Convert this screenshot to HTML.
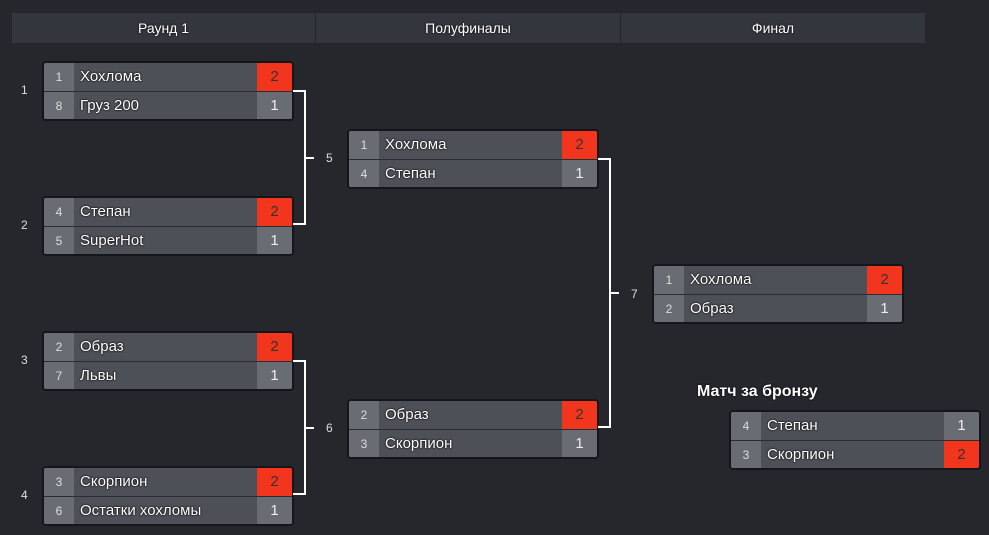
<!DOCTYPE html>
<html><head><meta charset="utf-8"><style>
body{margin:0;width:989px;height:535px;background:#26272d;font-family:"Liberation Sans",sans-serif;position:relative;overflow:hidden;color:#fff}
.h{position:absolute;top:13px;height:30px;background:#34363e;line-height:30px;text-align:center;font-size:14px;color:#fff;text-shadow:0 0 2px #000}
.m{position:absolute;width:248px;height:56px;border:2px solid #15161b;border-radius:4px;background:#4e5058;overflow:hidden}
.r{position:absolute;left:0;width:248px;height:28px;display:flex;font-size:15px;line-height:28px}
.r1{top:0;border-bottom:1px solid #2c2d33}
.r2{top:29px}
.s{width:30px;background:#6a6c73;color:#ddd;font-size:12px;text-align:center}
.n{flex:1;padding-left:6px;color:#fff;text-shadow:0 0 2px #000,0 0 1px #000}
.sc{width:35px;background:#6a6c73;color:#eee;text-align:center;font-size:15px}
.w{background:#f2361e;color:#333}
.l{position:absolute;background:#fff}
.t{position:absolute;font-size:12px;color:#ddd}
</style></head><body>
<div class="h" style="left:12px;width:303px">Раунд 1</div>
<div class="h" style="left:316px;width:304px">Полуфиналы</div>
<div class="h" style="left:621px;width:304px">Финал</div>

<div class="t" style="left:21px;top:83px">1</div>
<div class="t" style="left:21px;top:218px">2</div>
<div class="t" style="left:21px;top:353px">3</div>
<div class="t" style="left:21px;top:488px">4</div>

<div class="m" style="left:42px;top:61px"><div class="r r1"><div class="s">1</div><div class="n">Хохлома</div><div class="sc w">2</div></div><div class="r r2"><div class="s">8</div><div class="n">Груз 200</div><div class="sc">1</div></div></div>
<div class="m" style="left:42px;top:196px"><div class="r r1"><div class="s">4</div><div class="n">Степан</div><div class="sc w">2</div></div><div class="r r2"><div class="s">5</div><div class="n">SuperHot</div><div class="sc">1</div></div></div>
<div class="m" style="left:42px;top:331px"><div class="r r1"><div class="s">2</div><div class="n">Образ</div><div class="sc w">2</div></div><div class="r r2"><div class="s">7</div><div class="n">Львы</div><div class="sc">1</div></div></div>
<div class="m" style="left:42px;top:466px"><div class="r r1"><div class="s">3</div><div class="n">Скорпион</div><div class="sc w">2</div></div><div class="r r2"><div class="s">6</div><div class="n">Остатки хохломы</div><div class="sc">1</div></div></div>

<div class="m" style="left:347px;top:129px"><div class="r r1"><div class="s">1</div><div class="n">Хохлома</div><div class="sc w">2</div></div><div class="r r2"><div class="s">4</div><div class="n">Степан</div><div class="sc">1</div></div></div>
<div class="m" style="left:347px;top:399px"><div class="r r1"><div class="s">2</div><div class="n">Образ</div><div class="sc w">2</div></div><div class="r r2"><div class="s">3</div><div class="n">Скорпион</div><div class="sc">1</div></div></div>

<div class="m" style="left:652px;top:264px"><div class="r r1"><div class="s">1</div><div class="n">Хохлома</div><div class="sc w">2</div></div><div class="r r2"><div class="s">2</div><div class="n">Образ</div><div class="sc">1</div></div></div>

<div style="position:absolute;left:697px;top:383px;font-size:16px;font-weight:bold;text-shadow:0 0 2px #000">Матч за бронзу</div>
<div class="m" style="left:729px;top:410px"><div class="r r1"><div class="s">4</div><div class="n">Степан</div><div class="sc">1</div></div><div class="r r2"><div class="s">3</div><div class="n">Скорпион</div><div class="sc w">2</div></div></div>

<div class="l" style="left:293px;top:90px;width:13px;height:2px"></div>
<div class="l" style="left:304px;top:90px;width:2px;height:135px"></div>
<div class="l" style="left:293px;top:223px;width:13px;height:2px"></div>
<div class="l" style="left:304px;top:157px;width:10px;height:2px"></div>
<div class="t" style="left:326px;top:151px">5</div>

<div class="l" style="left:293px;top:360px;width:13px;height:2px"></div>
<div class="l" style="left:304px;top:360px;width:2px;height:135px"></div>
<div class="l" style="left:293px;top:493px;width:13px;height:2px"></div>
<div class="l" style="left:304px;top:427px;width:10px;height:2px"></div>
<div class="t" style="left:326px;top:421px">6</div>

<div class="l" style="left:598px;top:158px;width:13px;height:2px"></div>
<div class="l" style="left:609px;top:158px;width:2px;height:270px"></div>
<div class="l" style="left:598px;top:426px;width:13px;height:2px"></div>
<div class="l" style="left:609px;top:292px;width:10px;height:2px"></div>
<div class="t" style="left:631px;top:287px">7</div>
</body></html>
